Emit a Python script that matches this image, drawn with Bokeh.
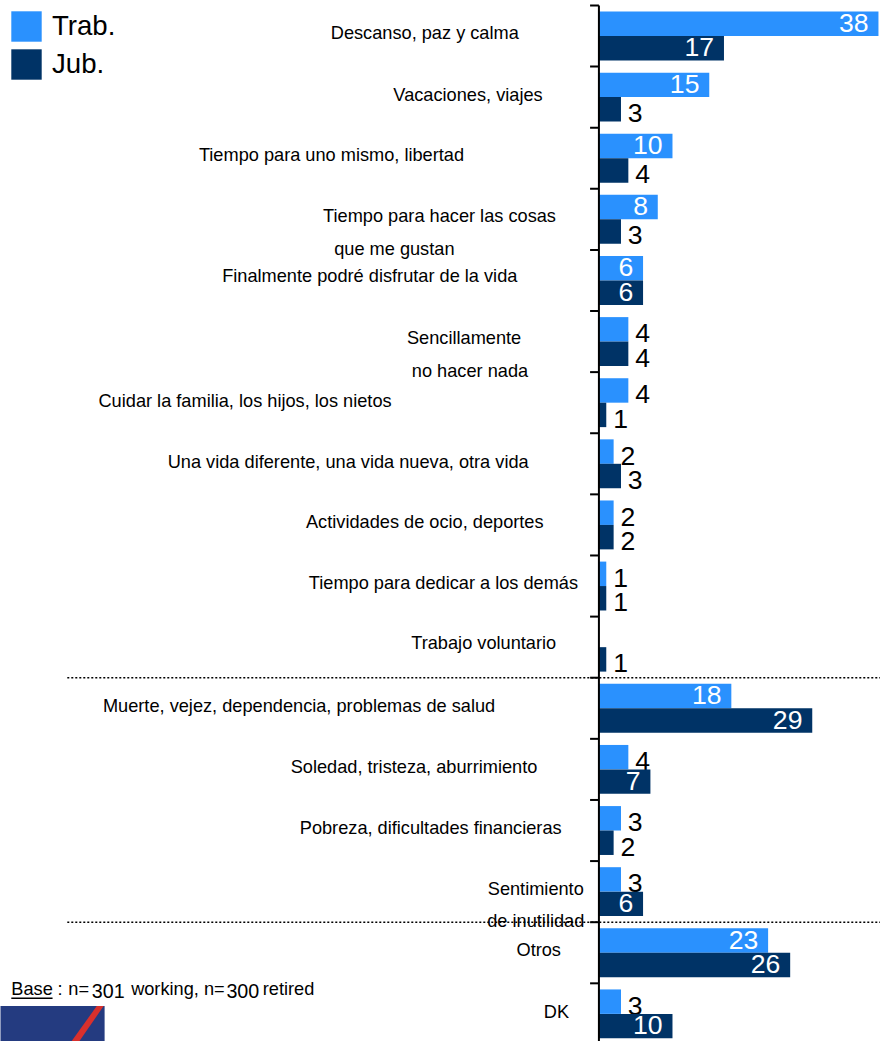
import math
from bokeh.plotting import figure
from bokeh.models import Range1d, Legend, LegendItem, ColumnDataSource
from bokeh.core.properties import value
from bokeh.embed import file_html
from bokeh.resources import INLINE

# ---------------- data ----------------
categories = [
    "Descanso, paz y calma",
    "Vacaciones, viajes",
    "Tiempo para uno mismo, libertad",
    "Tiempo para hacer las cosas\nque me gustan",
    "Finalmente podré disfrutar de la vida",
    "Sencillamente\nno hacer nada",
    "Cuidar la familia, los hijos, los nietos",
    "Una vida diferente, una vida nueva, otra vida",
    "Actividades de ocio, deportes",
    "Tiempo para dedicar a los demás",
    "Trabajo voluntario",
    "Muerte, vejez, dependencia, problemas de salud",
    "Soledad, tristeza, aburrimiento",
    "Pobreza, dificultades financieras",
    "Sentimiento\nde inutilidad",
    "Otros",
    "DK",
]
trab = [38, 15, 10, 8, 6, 4, 4, 2, 2, 1, None, 18, 4, 3, 3, 23, 3]
jub = [17, 3, 4, 3, 6, 4, 1, 3, 2, 1, 1, 29, 7, 2, 6, 26, 10]
series_names = ["Trab.", "Jub."]
group_breaks = [10.5, 14.5]          # dotted separators between groups of rows
base_note = ["Base", ":", "n=", "301", "working, n=", "300", "retired"]

# ---------------- layout / style ----------------
REF_W, REF_H = 896, 1057
W, H = 880, 1041
SX, SY = W / REF_W, H / REF_H
AXIS_PX = 609.3      # reference pixel of value 0
UNIT_PX = 7.49       # reference pixels per percentage point
ROW0_PY = 36.0       # reference pixel of first row center
ROW_PX = 62.06       # reference row pitch in pixels

def xd(px):
    return (px - AXIS_PX) / UNIT_PX

def yd(py):
    return (py - ROW0_PY) / ROW_PX

C_TRAB = "#2A91FE"
C_JUB = "#003366"
FONT = "Liberation Sans"

def fs(px):
    return f"{px * SY:.1f}px"

# label centers (reference px) and vertical offsets (px) per label line
label_cx = [[432], [476], [337], [447, 401], [376], [472, 478], [249], [354],
            [432], [451], [492], [304], [421], [438], [545, 545], [548], [566]]
label_dy = [[-3], [-2], [-3], [-3, 30], [-4], [-4, 30], [-2], [-2],
            [-3], [-3], [-4], [-2], [-2], [-3], [-3, 30], [-3], [-2]]

p = figure(width=W, height=H,
           x_range=Range1d(xd(0), xd(REF_W)),
           y_range=Range1d(yd(REF_H), yd(0)),
           output_backend="svg", toolbar_location=None,
           x_axis_location=None, y_axis_location=None,
           min_border=0, outline_line_color=None)
p.grid.visible = False
p.background_fill_color = "white"

idx = list(range(len(categories)))
nan = float("nan")
trab_vals = [nan if v is None else v for v in trab]

src_t = ColumnDataSource(dict(y=[i - 0.2 for i in idx], v=trab_vals))
src_j = ColumnDataSource(dict(y=[i + 0.2 for i in idx], v=jub))

def label_source(vals, shift):
    xs, ys, txt, col, align, off = [], [], [], [], [], []
    for i, v in enumerate(vals):
        if v is None or (isinstance(v, float) and math.isnan(v)):
            continue
        inside = v >= 6
        xs.append(v)
        ys.append(i + shift + (-1 if inside else 4) / ROW_PX)
        txt.append(str(v))
        col.append("white" if inside else "black")
        align.append("right" if inside else "left")
        off.append((-10 if inside else 7) * SX)
    return ColumnDataSource(dict(x=xs, y=ys, t=txt, c=col, a=align, o=off))

r_t = p.hbar(y="y", left=0, right="v", height=0.4, source=src_t,
             fill_color=C_TRAB, line_color=None)
p.text(x="x", y="y", text="t", source=label_source(trab, -0.2),
       text_color="c", text_align="a", x_offset="o", text_baseline="middle",
       text_font=value(FONT), text_font_size=fs(27))
r_j = p.hbar(y="y", left=0, right="v", height=0.4, source=src_j,
             fill_color=C_JUB, line_color=None)
p.text(x="x", y="y", text="t", source=label_source(jub, 0.2),
       text_color="c", text_align="a", x_offset="o", text_baseline="middle",
       text_font=value(FONT), text_font_size=fs(27))

# axis line and ticks
n = len(categories)
p.segment(x0=[0], x1=[0], y0=[-0.5], y1=[n], line_color="black", line_width=2)
tick_y = [i - 0.5 for i in idx]
p.segment(x0=[0] * n, x1=[-9 / UNIT_PX] * n, y0=tick_y, y1=tick_y,
          line_color="black", line_width=2)

# dotted group separators
p.segment(x0=[xd(68)] * len(group_breaks), x1=[xd(REF_W + 10)] * len(group_breaks),
          y0=group_breaks, y1=group_breaks, line_color="black",
          line_width=1.5, line_dash="2 2")

# category labels
lx, ly, lt, lo = [], [], [], []
for i, cat in enumerate(categories):
    for j, line in enumerate(cat.split("\n")):
        lx.append(0)
        ly.append(i + label_dy[i][j] / ROW_PX)
        lt.append(line)
        lo.append((label_cx[i][j] - AXIS_PX) * SX)
p.text(x="x", y="y", text="t", x_offset="o",
       source=ColumnDataSource(dict(x=lx, y=ly, t=lt, o=lo)),
       text_align="center", text_baseline="middle", text_color="black",
       text_font=value(FONT), text_font_size=fs(18.5))

# legend
legend = Legend(items=[LegendItem(label=series_names[0], renderers=[r_t]),
                       LegendItem(label=series_names[1], renderers=[r_j])],
                location="top_left", margin=7, padding=0, spacing=0,
                glyph_width=38, glyph_height=38, label_standoff=7,
                label_text_font=FONT, label_text_font_size=fs(28),
                label_text_color="black",
                border_line_alpha=0, background_fill_alpha=0)
p.add_layout(legend)

# footer note (left edge x and vertical center y in reference px)
fx = [11, 58, 69, 93, 133, 230, 267]
fy = [1004, 1004, 1004, 1006, 1004, 1006, 1004]
fsz = [18.5, 18.5, 18.5, 20, 18.5, 20, 18.5]
for t, x, y, s in zip(base_note, fx, fy, fsz):
    p.text(x=[xd(x)], y=[yd(y)], text=[t], text_align="left",
           text_baseline="middle", text_color="black",
           text_font=value(FONT), text_font_size=fs(s))
p.segment(x0=[xd(11)], x1=[xd(53)], y0=[yd(1013)], y1=[yd(1013)],
          line_color="black", line_width=1.5)

# logo corner
p.quad(left=[xd(-2)], right=[xd(106)], top=[yd(1021)], bottom=[yd(1065)],
       fill_color="#243B80", line_color=None)
p.patch(x=[xd(98), xd(105), xd(78), xd(70)], y=[yd(1021), yd(1021), yd(1060), yd(1060)],
        fill_color="#D9302C", line_color=None)

open("out.html", "w").write(file_html(p, INLINE))
